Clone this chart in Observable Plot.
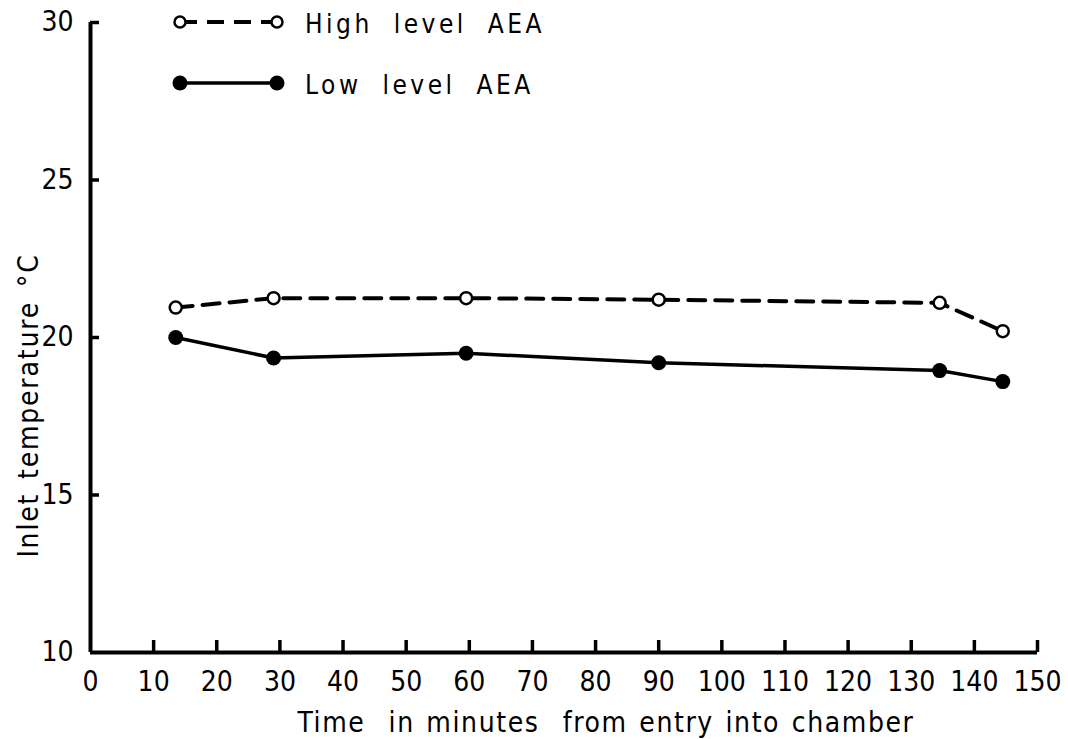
<!DOCTYPE html>
<html>
<head>
<meta charset="utf-8">
<script src="https://cdn.jsdelivr.net/npm/d3@7"></script>
<script src="https://cdn.jsdelivr.net/npm/@observablehq/plot@0.6"></script>
<style>
  html, body { margin: 0; padding: 0; background: #fff; }
  #wrap { position: relative; width: 1068px; height: 739px; }
  #legend { position: absolute; left: 0; top: 0; }
</style>
</head>
<body>
<div id="wrap"></div>
<script>
// ---- data ----
const times = [13.5, 29, 59.5, 90, 134.5, 144.5];
const highAEA = [20.95, 21.25, 21.25, 21.2, 21.1, 20.2];
const lowAEA = [20.0, 19.35, 19.5, 19.2, 18.95, 18.6];
const xTicks = [0, 10, 20, 30, 40, 50, 60, 70, 80, 90, 100, 110, 120, 130, 140, 150];
const yTicks = [10, 15, 20, 25, 30];
const seriesNames = ["High level AEA", "Low level AEA"];
const xLabel = "Time  in minutes  from entry into chamber";
const yLabel = "Inlet temperature °C";

const high = times.map((t, i) => ({t, v: highAEA[i]}));
const low = times.map((t, i) => ({t, v: lowAEA[i]}));

const W = 1068, H = 739;
const mL = 90, mR = 31, mT = 22, mB = 87;
// pixel -> data-unit helpers for short inward tick marks
const yPerPx = (30 - 10) / (H - mT - mB);
const xPerPx = (150 - 0) / (W - mL - mR);

const fontFamily = '"Liberation Sans Narrow", "DejaVu Sans Condensed", "Open Sans", sans-serif';

const chart = Plot.plot({
  width: W, height: H,
  marginLeft: mL, marginRight: mR, marginTop: mT, marginBottom: mB,
  style: {fontFamily, fontSize: "28px", color: "#000", background: "#fff"},
  x: {domain: [0, 150]},
  y: {domain: [10, 30]},
  marks: [
    Plot.axisX({ticks: xTicks, tickSize: 0, tickPadding: 19, fontSize: 28, label: null, tickFormat: d => String(d)}),
    Plot.axisY({ticks: yTicks, tickSize: 0, tickPadding: 17, fontSize: 28, label: null, tickFormat: d => String(d)}),
    // inward tick marks
    Plot.ruleX(xTicks.filter(t => t > 0), {x: d => d, y1: 10, y2: 10 + 12 * yPerPx, stroke: "#000", strokeWidth: 3.5}),
    Plot.ruleY(yTicks.filter(t => t > 10), {y: d => d, x1: 0, x2: 9 * xPerPx, stroke: "#000", strokeWidth: 3.5}),
    // axis lines
    Plot.ruleY([10], {x1: 0, x2: 150, stroke: "#000", strokeWidth: 4}),
    Plot.ruleX([0], {y1: 10, y2: 30, stroke: "#000", strokeWidth: 4}),
    // series
    Plot.line(high, {x: "t", y: "v", stroke: "#000", strokeWidth: 4, strokeDasharray: "17,10"}),
    Plot.line(low, {x: "t", y: "v", stroke: "#000", strokeWidth: 3.5}),
    Plot.dot(high, {x: "t", y: "v", r: 6, fill: "#fff", stroke: "#000", strokeWidth: 2.5}),
    Plot.dot(low, {x: "t", y: "v", r: 7.5, fill: "#000", stroke: "#000", strokeWidth: 0}),
    // axis titles
    Plot.text([xLabel], {frameAnchor: "bottom", textAnchor: "middle", dx: 42, dy: 79, fontSize: 28, fill: "#000"}),
    Plot.text([yLabel], {frameAnchor: "left", textAnchor: "middle", rotate: -90, dx: -61, dy: 68, fontSize: 28, fill: "#000"})
  ]
});
// spacing tweaks on the title texts
d3.select(chart).selectAll("text").filter(function() { return this.textContent === xLabel; })
  .style("letter-spacing", "1.6px").style("word-spacing", "2px");
d3.select(chart).selectAll("text").filter(function() { return this.textContent === yLabel; })
  .style("letter-spacing", "1.8px").style("word-spacing", "4px");
document.getElementById("wrap").appendChild(chart);

// legend overlay
const leg = d3.select("#wrap").append("svg")
  .attr("id", "legend").attr("width", 600).attr("height", 110)
  .style("font-family", fontFamily).style("font-size", "26px");
const rows = [
  {name: seriesNames[0], y: 22, dash: "17,10", open: true},
  {name: seriesNames[1], y: 83, dash: null, open: false}
];
rows.forEach(r => {
  leg.append("line").attr("x1", 180).attr("x2", 277).attr("y1", r.y).attr("y2", r.y)
    .attr("stroke", "#000").attr("stroke-width", r.open ? 4 : 3.5)
    .attr("stroke-dasharray", r.dash);
  [180, 277].forEach(cx => {
    leg.append("circle").attr("cx", cx).attr("cy", r.y).attr("r", r.open ? 5.5 : 7.5)
      .attr("fill", r.open ? "#fff" : "#000").attr("stroke", "#000").attr("stroke-width", r.open ? 2.5 : 0);
  });
  leg.append("text").attr("x", 305).attr("y", r.y + 2).attr("dy", "0.35em").attr("fill", "#000")
    .style("letter-spacing", "3.5px").style("word-spacing", "10px").text(r.name);
});
</script>
</body>
</html>
